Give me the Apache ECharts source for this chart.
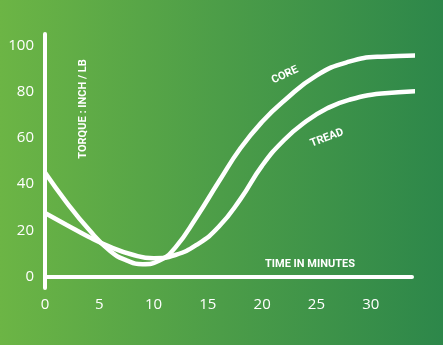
<!DOCTYPE html>
<html>
<head>
<meta charset="utf-8">
<script src="https://cdn.jsdelivr.net/npm/echarts@6/dist/echarts.min.js"></script>
<style>
html,body{margin:0;padding:0;}
#chart{width:443px;height:345px;}
</style>
</head>
<body>
<div id="chart"></div>
<script>
var coreTimes   = [0,2,4,6,7.5,9,10.5,12,14,16,18,20,22,25,28,31,35.7];
var coreValues  = [45,32,20.5,11,7,5.3,6.8,12.5,26,41,55.5,67,76,87,93,95.2,95.8];
var treadTimes  = [0,2,4,6,8,10,12,14,16,18,20,22,24,26,28,31,35.7];
var treadValues = [27.5,22.3,17.2,12.8,9.5,7.9,9.3,13.8,21.5,33.5,48,59,67,72.8,76.5,79.2,80.4];
var xTicks = [0,5,10,15,20,25,30];
var yTicks = [0,20,40,60,80,100];
var xTitle = 'TIME IN MINUTES';
var yTitle = 'TORQUE : INCH / LB';
var seriesNames = ['CORE','TREAD'];

function pairs(xs, ys){ return xs.map(function(x,i){return [x, ys[i]];}); }

var chart = echarts.init(document.getElementById('chart'), null, {renderer:'canvas'});
var labelFont = '"Open Sans", sans-serif';
chart.setOption({
  animation:false,
  backgroundColor:{type:'linear',x:0,y:0,x2:1,y2:0,colorStops:[
    {offset:0,color:'#6cb545'},{offset:0.5,color:'#4c9d48'},{offset:1,color:'#2d874a'}]},
  grid:{left:45,right:31,top:34,bottom:57},
  xAxis:{type:'value',min:0,max:33.8,
    axisLine:{show:true,lineStyle:{color:'#fff',width:4}},
    axisTick:{show:false},splitLine:{show:false},
    axisLabel:{customValues:xTicks,color:'#fff',fontSize:15,fontFamily:labelFont,margin:9}},
  yAxis:{type:'value',min:-5,max:105,
    axisLine:{show:true,lineStyle:{color:'#fff',width:4}},
    axisTick:{show:false},splitLine:{show:false},
    axisLabel:{customValues:yTicks,color:'#fff',fontSize:15,fontFamily:labelFont,margin:11}},
  series:[
    {name:seriesNames[0],type:'line',smooth:0.5,symbol:'none',clip:false,
     lineStyle:{color:'#fff',width:4.5},data:pairs(coreTimes,coreValues)},
    {name:seriesNames[1],type:'line',smooth:0.5,symbol:'none',clip:false,
     lineStyle:{color:'#fff',width:4.5},data:pairs(treadTimes,treadValues)}
  ],
  graphic:[
    {type:'text',x:83,y:109,rotation:Math.PI/2,
     style:{text:yTitle,fill:'#fff',font:'bold 11px Roboto',align:'center',verticalAlign:'middle'}},
    {type:'text',x:310,y:264,
     style:{text:xTitle,fill:'#fff',font:'bold 11px Roboto',align:'center',verticalAlign:'middle'}},
    {type:'text',x:285,y:75,rotation:0.44,
     style:{text:seriesNames[0],fill:'#fff',font:'bold 11px Roboto',align:'center',verticalAlign:'middle'}},
    {type:'text',x:327,y:138,rotation:0.36,
     style:{text:seriesNames[1],fill:'#fff',font:'bold 11px Roboto',align:'center',verticalAlign:'middle'}}
  ]
});
</script>
</body>
</html>
